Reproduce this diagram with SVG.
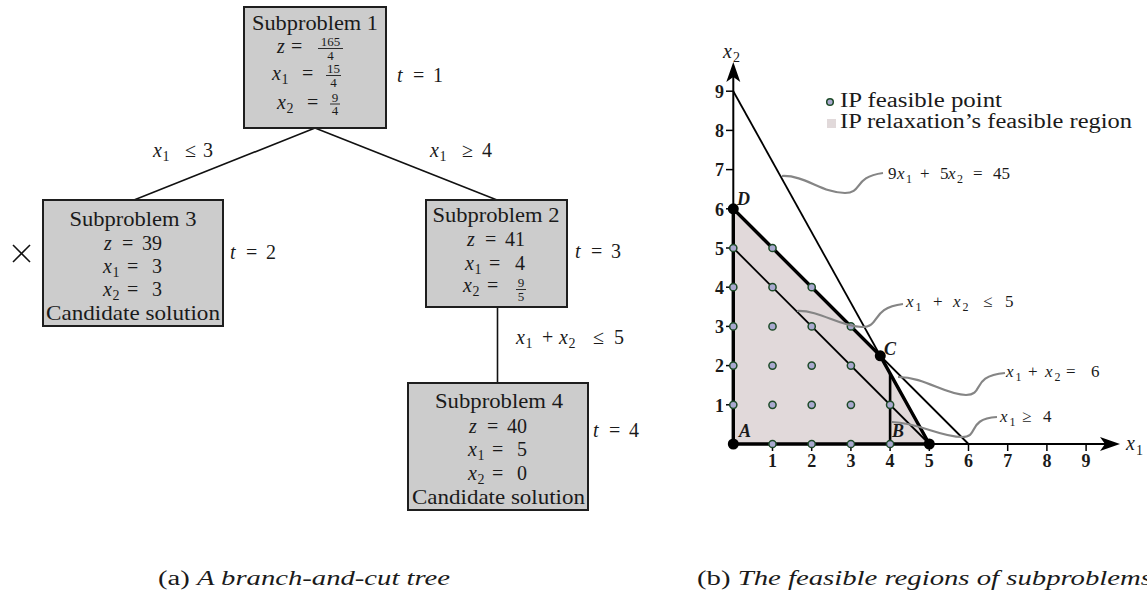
<svg xmlns="http://www.w3.org/2000/svg" width="1147" height="600" viewBox="0 0 1147 600">
<style>
text{font-family:"Liberation Serif","Times New Roman",serif;fill:#1a1a1a}
.t{font-size:20px}
.h{font-size:21px}
.i{font-style:italic}
.s{font-size:14px}
.f{font-size:13px}
.p{font-size:17px}
.ps{font-size:12px}
.b{font-weight:bold;font-size:18px}
.lb{font-weight:bold;font-style:italic;font-size:18px}
.box{fill:#cccccc;stroke:#1e1e1e;stroke-width:2}
.edge{stroke:#111;stroke-width:1.6;fill:none}
.bar{stroke:#1a1a1a;stroke-width:0.9}
.thin{stroke:#000;stroke-width:1.8;fill:none}
.thick{stroke:#000;stroke-width:3.4;fill:none;stroke-linecap:round}
.ip{fill:#a9a9cf;stroke:#1d4a28;stroke-width:1.5}
.big{fill:#000}
.call{stroke:#858585;stroke-width:2.2;fill:none}
.tick{stroke:#000;stroke-width:1.5}
</style>

<g id="connectors">
  <line class="edge" x1="315" y1="128" x2="134" y2="200"/>
  <line class="edge" x1="315" y1="128" x2="497" y2="200"/>
  <line class="edge" x1="497.5" y1="307" x2="497.5" y2="383"/>
  <text class="t" y="157"><tspan class="i" x="153">x</tspan><tspan class="s" x="162.5" y="161">1</tspan><tspan x="185" y="157">≤</tspan><tspan x="203">3</tspan></text>
  <text class="t" y="157"><tspan class="i" x="430">x</tspan><tspan class="s" x="439.5" y="161">1</tspan><tspan x="462" y="157">≥</tspan><tspan x="482">4</tspan></text>
  <text class="t" y="344"><tspan class="i" x="516">x</tspan><tspan class="s" x="525.5" y="348">1</tspan><tspan x="542" y="344">+</tspan><tspan class="i" x="559">x</tspan><tspan class="s" x="568.5" y="348">2</tspan><tspan x="593" y="344">≤</tspan><tspan x="614">5</tspan></text>
</g>

<g id="sub1">
  <rect class="box" x="244" y="7" width="142" height="121"/>
  <text class="h" x="315" y="30" text-anchor="middle" textLength="126" lengthAdjust="spacingAndGlyphs">Subproblem 1</text>
  <text class="t" y="53"><tspan class="i" x="277">z</tspan><tspan x="291">=</tspan></text>
  <text class="f" x="330.5" y="46" text-anchor="middle">165</text>
  <line class="bar" x1="318" y1="48.5" x2="343" y2="48.5"/>
  <text class="f" x="330.5" y="59.5" text-anchor="middle">4</text>
  <text class="t" y="80"><tspan class="i" x="272">x</tspan><tspan class="s" x="281.5" y="84">1</tspan><tspan x="302" y="80">=</tspan></text>
  <text class="f" x="333.5" y="73" text-anchor="middle">15</text>
  <line class="bar" x1="326" y1="75.5" x2="341" y2="75.5"/>
  <text class="f" x="333.5" y="86.5" text-anchor="middle">4</text>
  <text class="t" y="109"><tspan class="i" x="277">x</tspan><tspan class="s" x="286.5" y="113">2</tspan><tspan x="307" y="109">=</tspan></text>
  <text class="f" x="335" y="101.5" text-anchor="middle">9</text>
  <line class="bar" x1="330" y1="104" x2="340" y2="104"/>
  <text class="f" x="335" y="115" text-anchor="middle">4</text>
  <text class="t" y="82"><tspan class="i" x="397">t</tspan><tspan x="413">=</tspan><tspan x="433">1</tspan></text>
</g>

<g id="sub3">
  <rect class="box" x="43" y="200" width="180" height="126"/>
  <text class="h" x="133" y="226" text-anchor="middle" textLength="127" lengthAdjust="spacingAndGlyphs">Subproblem 3</text>
  <text class="t" y="250"><tspan class="i" x="104">z</tspan><tspan x="122">=</tspan><tspan x="142">39</tspan></text>
  <text class="t" y="273"><tspan class="i" x="103">x</tspan><tspan class="s" x="112.5" y="277">1</tspan><tspan x="127" y="273">=</tspan><tspan x="152">3</tspan></text>
  <text class="t" y="296"><tspan class="i" x="103">x</tspan><tspan class="s" x="112.5" y="300">2</tspan><tspan x="127" y="296">=</tspan><tspan x="152">3</tspan></text>
  <text class="h" x="133" y="320" text-anchor="middle" textLength="174" lengthAdjust="spacingAndGlyphs">Candidate solution</text>
  <line x1="13" y1="245" x2="30" y2="262" stroke="#111" stroke-width="1.6"/>
  <line x1="30" y1="245" x2="13" y2="262" stroke="#111" stroke-width="1.6"/>
  <text class="t" y="259"><tspan class="i" x="230">t</tspan><tspan x="246">=</tspan><tspan x="266">2</tspan></text>
</g>

<g id="sub2">
  <rect class="box" x="426" y="200" width="141" height="107"/>
  <text class="h" x="496" y="222" text-anchor="middle" textLength="127" lengthAdjust="spacingAndGlyphs">Subproblem 2</text>
  <text class="t" y="246"><tspan class="i" x="467">z</tspan><tspan x="485">=</tspan><tspan x="505">41</tspan></text>
  <text class="t" y="270"><tspan class="i" x="465">x</tspan><tspan class="s" x="474.5" y="274">1</tspan><tspan x="489" y="270">=</tspan><tspan x="515">4</tspan></text>
  <text class="t" y="292"><tspan class="i" x="463">x</tspan><tspan class="s" x="472.5" y="296">2</tspan><tspan x="487" y="292">=</tspan></text>
  <text class="f" x="521" y="287" text-anchor="middle">9</text>
  <line class="bar" x1="516" y1="289.5" x2="526" y2="289.5"/>
  <text class="f" x="521" y="301" text-anchor="middle">5</text>
  <text class="t" y="258"><tspan class="i" x="575">t</tspan><tspan x="591">=</tspan><tspan x="611">3</tspan></text>
</g>

<g id="sub4">
  <rect class="box" x="408" y="383" width="180" height="127"/>
  <text class="h" x="499" y="408" text-anchor="middle" textLength="128" lengthAdjust="spacingAndGlyphs">Subproblem 4</text>
  <text class="t" y="433"><tspan class="i" x="469">z</tspan><tspan x="487">=</tspan><tspan x="507">40</tspan></text>
  <text class="t" y="456"><tspan class="i" x="468">x</tspan><tspan class="s" x="477.5" y="460">1</tspan><tspan x="492" y="456">=</tspan><tspan x="517">5</tspan></text>
  <text class="t" y="480"><tspan class="i" x="468">x</tspan><tspan class="s" x="477.5" y="484">2</tspan><tspan x="492" y="480">=</tspan><tspan x="517">0</tspan></text>
  <text class="h" x="498.5" y="504" text-anchor="middle" textLength="173" lengthAdjust="spacingAndGlyphs">Candidate solution</text>
  <text class="t" y="437"><tspan class="i" x="593">t</tspan><tspan x="609">=</tspan><tspan x="629">4</tspan></text>
</g>

<g id="plot">
  <polygon points="733.3,444 929.3,444 880.3,355.8 733.3,208.8" fill="#e1d9da"/>
  <line class="thin" x1="733.3" y1="91.2" x2="929.3" y2="444"/>
  <line class="thin" x1="733.3" y1="208.8" x2="968.5" y2="444"/>
  <line class="thin" x1="733.3" y1="248" x2="929.3" y2="444"/>
  <line stroke="#000" stroke-width="2.6" x1="890.1" y1="444" x2="890.1" y2="373.4"/>
  <line stroke="#000" stroke-width="2" x1="733.3" y1="444" x2="1108" y2="444"/>
  <line stroke="#000" stroke-width="2" x1="733.3" y1="444" x2="733.3" y2="75"/>
  <polygon points="1120,444 1100,437 1105,444 1100,451" fill="#000"/>
  <polygon points="733.3,62 726.3,82 733.3,77 740.3,82" fill="#000"/>
  <polyline class="thick" points="929.3,444 733.3,444 733.3,208.8 880.3,355.8 929.3,444"/>
  <g class="tick">
    <line x1="772.5" y1="444" x2="772.5" y2="451"/><line x1="811.7" y1="444" x2="811.7" y2="451"/><line x1="850.9" y1="444" x2="850.9" y2="451"/><line x1="890.1" y1="444" x2="890.1" y2="451"/><line x1="929.3" y1="444" x2="929.3" y2="451"/><line x1="968.5" y1="444" x2="968.5" y2="451"/><line x1="1007.7" y1="444" x2="1007.7" y2="451"/><line x1="1046.9" y1="444" x2="1046.9" y2="451"/><line x1="1086.1" y1="444" x2="1086.1" y2="451"/>
    <line x1="726" y1="404.8" x2="733.3" y2="404.8"/><line x1="726" y1="365.6" x2="733.3" y2="365.6"/><line x1="726" y1="326.4" x2="733.3" y2="326.4"/><line x1="726" y1="287.2" x2="733.3" y2="287.2"/><line x1="726" y1="248" x2="733.3" y2="248"/><line x1="726" y1="208.8" x2="733.3" y2="208.8"/><line x1="726" y1="169.6" x2="733.3" y2="169.6"/><line x1="726" y1="130.4" x2="733.3" y2="130.4"/><line x1="726" y1="91.2" x2="733.3" y2="91.2"/>
  </g>
  <g text-anchor="middle">
    <text class="b" x="772.5" y="467">1</text><text class="b" x="811.7" y="467">2</text><text class="b" x="850.9" y="467">3</text><text class="b" x="890.1" y="467">4</text><text class="b" x="929.3" y="467">5</text><text class="b" x="968.5" y="467">6</text><text class="b" x="1007.7" y="467">7</text><text class="b" x="1046.9" y="467">8</text><text class="b" x="1086.1" y="467">9</text>
  </g>
  <g text-anchor="end">
    <text class="b" x="724" y="411.5">1</text><text class="b" x="724" y="372.3">2</text><text class="b" x="724" y="333.1">3</text><text class="b" x="724" y="293.9">4</text><text class="b" x="724" y="254.7">5</text><text class="b" x="724" y="215.5">6</text><text class="b" x="724" y="176.3">7</text><text class="b" x="724" y="137.1">8</text><text class="b" x="724" y="97.9">9</text>
  </g>
  <text class="t" y="450"><tspan class="i" x="1126">x</tspan><tspan class="s" x="1136" y="455">1</tspan></text>
  <text class="t" y="58"><tspan class="i" x="723">x</tspan><tspan class="s" x="733" y="62">2</tspan></text>
  <g class="ip">
    <circle cx="733.3" cy="404.8" r="3.6"/><circle cx="733.3" cy="365.6" r="3.6"/><circle cx="733.3" cy="326.4" r="3.6"/><circle cx="733.3" cy="287.2" r="3.6"/><circle cx="733.3" cy="248" r="3.6"/>
    <circle cx="772.5" cy="444" r="3.6"/><circle cx="772.5" cy="404.8" r="3.6"/><circle cx="772.5" cy="365.6" r="3.6"/><circle cx="772.5" cy="326.4" r="3.6"/><circle cx="772.5" cy="287.2" r="3.6"/><circle cx="772.5" cy="248" r="3.6"/>
    <circle cx="811.7" cy="444" r="3.6"/><circle cx="811.7" cy="404.8" r="3.6"/><circle cx="811.7" cy="365.6" r="3.6"/><circle cx="811.7" cy="326.4" r="3.6"/><circle cx="811.7" cy="287.2" r="3.6"/>
    <circle cx="850.9" cy="444" r="3.6"/><circle cx="850.9" cy="404.8" r="3.6"/><circle cx="850.9" cy="365.6" r="3.6"/><circle cx="850.9" cy="326.4" r="3.6"/>
    <circle cx="890.1" cy="444" r="3.6"/><circle cx="890.1" cy="404.8" r="3.6"/>
  </g>
  <circle class="big" cx="733.3" cy="444" r="5.5"/>
  <circle class="big" cx="733.3" cy="208.8" r="5.5"/>
  <circle class="big" cx="880.3" cy="355.8" r="5.5"/>
  <circle class="big" cx="929.3" cy="444" r="5.5"/>
  <text class="lb" x="739" y="437">A</text>
  <text class="lb" x="737" y="205">D</text>
  <text class="lb" x="884" y="355">C</text>
  <text class="lb" x="892" y="437">B</text>
  <path class="call" d="M782,176 C805,175 822,193 845,193 C863,193 853,177 883,173"/>
  <path class="call" d="M797,311 C820,310 840,327 862,327 C881,327 870,308 903,304"/>
  <path class="call" d="M898,377 C925,377 945,395 966,395 C985,395 970,376 1005,373"/>
  <path class="call" d="M892,422 C920,423 940,437 962,437 C980,437 966,419 997,417"/>
  <text class="p" y="179"><tspan x="888">9</tspan><tspan class="i" x="897">x</tspan><tspan class="ps" x="906" y="183">1</tspan><tspan x="920" y="179">+</tspan><tspan x="940">5</tspan><tspan class="i" x="948">x</tspan><tspan class="ps" x="957" y="183">2</tspan><tspan x="973" y="179">=</tspan><tspan x="993">45</tspan></text>
  <text class="p" y="307"><tspan class="i" x="906">x</tspan><tspan class="ps" x="915.5" y="311">1</tspan><tspan x="933" y="307">+</tspan><tspan class="i" x="953">x</tspan><tspan class="ps" x="962.5" y="311">2</tspan><tspan x="983" y="307">≤</tspan><tspan x="1005">5</tspan></text>
  <text class="p" y="377"><tspan class="i" x="1006">x</tspan><tspan class="ps" x="1015.5" y="381">1</tspan><tspan x="1028" y="377">+</tspan><tspan class="i" x="1045">x</tspan><tspan class="ps" x="1054.5" y="381">2</tspan><tspan x="1066" y="377">=</tspan><tspan x="1091">6</tspan></text>
  <text class="p" y="422"><tspan class="i" x="1000">x</tspan><tspan class="ps" x="1009.5" y="426">1</tspan><tspan x="1022" y="422">≥</tspan><tspan x="1043">4</tspan></text>
  <circle class="ip" cx="830" cy="102" r="3.3"/>
  <text class="t" x="840" y="107" textLength="162" lengthAdjust="spacingAndGlyphs">IP feasible point</text>
  <rect x="827" y="119" width="9" height="9" fill="#e1d9da"/>
  <text class="t" x="840" y="128" textLength="292" lengthAdjust="spacingAndGlyphs">IP relaxation’s feasible region</text>
</g>

<g id="captions">
  <text class="t" x="158" y="585" textLength="292" lengthAdjust="spacingAndGlyphs">(a) <tspan class="i">A branch-and-cut tree</tspan></text>
  <text class="t" x="697" y="585" textLength="455" lengthAdjust="spacingAndGlyphs">(b) <tspan class="i">The feasible regions of subproblems</tspan></text>
</g>
</svg>
